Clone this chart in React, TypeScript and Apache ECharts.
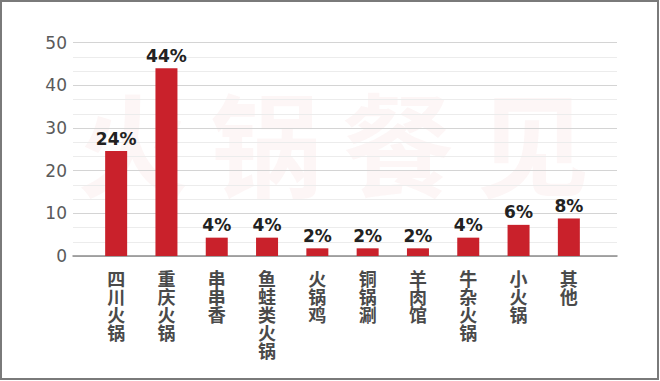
import React, { useEffect, useRef } from "react";
import * as echarts from "echarts";

const categories = ["四川火锅", "重庆火锅", "串串香", "鱼蛙类火锅", "火锅鸡", "铜锅涮", "羊肉馆", "牛杂火锅", "小火锅", "其他"];
const values = [24.6, 44, 4.3, 4.3, 1.8, 1.8, 1.8, 4.3, 7.3, 8.8];
const pctLabels = ["24%", "44%", "4%", "4%", "2%", "2%", "2%", "4%", "6%", "8%"];
const watermarkChars = ["火", "锅", "餐", "见"];

const NUMFONT = '"DejaVu Sans", "Noto Sans", sans-serif';

export default function App() {
  const ref = useRef<HTMLDivElement>(null);
  useEffect(() => {
    document.body.style.margin = "0";
    const chart = echarts.init(ref.current!, null, { renderer: "svg" });
    const wmX = [133, 266, 398, 533];
    chart.setOption({
      animation: false,
      backgroundColor: "#ffffff",
      graphic: [
        ...watermarkChars.map((c, i) => ({
          type: "text",
          z: -10,
          silent: true,
          x: wmX[i],
          y: 140,
          style: {
            text: c,
            fontSize: 112,
            fontWeight: "bold",
            fontFamily: '"Noto Sans CJK SC", sans-serif',
            fill: "rgba(205,40,50,0.045)",
            align: "center",
            verticalAlign: "middle",
          },
        })),
        {
          type: "rect",
          z: 100,
          shape: { x: 1, y: 1, width: 657, height: 378 },
          style: { fill: "none", stroke: "#7a7a7a", lineWidth: 2 },
        },
      ],
      grid: [
        { left: 73, right: 43, top: 42.7, bottom: 125 },
        { left: 91, right: 66, top: 42.7, bottom: 125 },
      ],
      xAxis: [
        {
          type: "value",
          gridIndex: 0,
          min: 0,
          max: 1,
          axisLine: { show: true, onZero: false, lineStyle: { color: "#8c8c8c", width: 1.5 } },
          axisTick: { show: false },
          axisLabel: { show: false },
          splitLine: { show: false },
        },
        {
          type: "category",
          gridIndex: 1,
          data: categories,
          axisLine: { show: false },
          axisTick: { show: false },
          axisLabel: {
            interval: 0,
            margin: 13,
            fontSize: 18,
            fontWeight: "bold",
            lineHeight: 18,
            color: "#4a4a4a",
            fontFamily: '"Noto Sans CJK SC", sans-serif',
            formatter: (v: string) => v.split("").join("\n"),
          },
        },
      ],
      yAxis: [
        {
          type: "value",
          gridIndex: 0,
          min: 0,
          max: 50,
          interval: 10,
          axisLine: { show: false },
          axisTick: { show: false },
          axisLabel: { margin: 6, fontSize: 17, color: "#5a5a5a", fontFamily: NUMFONT },
          splitLine: { show: true, lineStyle: { color: "#d4d4d4", width: 1.2 } },
          minorTick: { show: false, splitNumber: 3 },
          minorSplitLine: { show: true, lineStyle: { color: "#ececec", width: 1 } },
        },
        {
          type: "value",
          gridIndex: 1,
          min: 0,
          max: 50,
          interval: 10,
          show: false,
          splitLine: { show: false },
        },
      ],
      series: [
        {
          type: "bar",
          xAxisIndex: 1,
          yAxisIndex: 1,
          data: values,
          barWidth: 22,
          itemStyle: { color: "#c9212b" },
          label: {
            show: true,
            position: "top",
            distance: 4,
            fontSize: 17,
            fontWeight: "bold",
            color: "#222222",
            fontFamily: NUMFONT,
            formatter: (p: any) => pctLabels[p.dataIndex],
          },
        },
      ],
    });
    return () => chart.dispose();
  }, []);
  return <div ref={ref} style={{ width: 660, height: 381 }} />;
}
